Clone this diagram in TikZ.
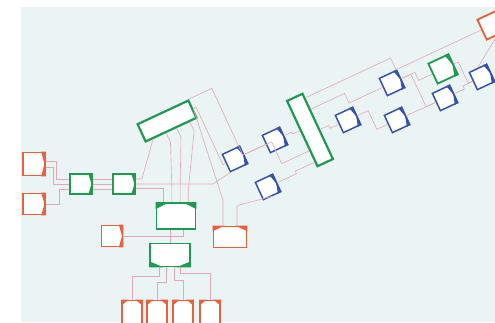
\documentclass[tikz,border=0pt]{standalone}
\usetikzlibrary{positioning,calc}
\definecolor{bgcyan}{HTML}{EBF4F5}
\definecolor{blockred}{HTML}{E8603C}
\definecolor{blockgreen}{HTML}{1E9A52}
\definecolor{blockblue}{HTML}{3552AA}
\definecolor{wirepink}{HTML}{E6A8B0}

\tikzset{
  block/.style={draw=#1, fill=white, line width=1.8pt, inner sep=0pt,
    minimum width=22pt, minimum height=22pt},
  wire/.style={draw=wirepink, line width=0.6pt},
}
% filled corners that give each block its pointed side
\newcommand{\tipeast}[2]{\fill[#2] (#1.north east) -- ($(#1.north east)!0.2!(#1.north west)$)
  -- ($(#1.east)!0.06!(#1.west)$) -- ($(#1.south east)!0.2!(#1.south west)$) -- (#1.south east) -- cycle;}
\newcommand{\tipnorth}[2]{\fill[#2] (#1.north west) -- ($(#1.north west)!0.35!(#1.north east)$) -- ($(#1.north west)!0.25!(#1.south west)$) -- cycle;
  \fill[#2] (#1.north east) -- ($(#1.north east)!0.35!(#1.north west)$) -- ($(#1.north east)!0.25!(#1.south east)$) -- cycle;}
\newcommand{\tipsouth}[2]{\fill[#2] (#1.south west) -- ($(#1.south west)!0.35!(#1.south east)$) -- ($(#1.south west)!0.25!(#1.north west)$) -- cycle;
  \fill[#2] (#1.south east) -- ($(#1.south east)!0.35!(#1.south west)$) -- ($(#1.south east)!0.25!(#1.north east)$) -- cycle;}
% wire routed square to the tilted part of the board
\newcommand{\zwire}[2]{%
  \path (#1) coordinate (za) (#2) coordinate (zb);
  \path ($(za)!.5!(zb)$) coordinate (zm) ($(za)+(25:10)$) coordinate (zau) ($(zb)+(25:10)$) coordinate (zbu);
  \draw[wire] (za) -- ($(za)!(zm)!(zau)$) -- ($(zb)!(zm)!(zbu)$) -- (zb);}

\begin{document}
\begin{tikzpicture}[x=1pt, y=1pt]
  \useasboundingbox (0,0) rectangle (495,322);
  \fill[white] (0,0) rectangle (495,322);
  \fill[bgcyan] (21,0) rectangle (495,315);

  % upright blocks
  \node[block=blockred, minimum height=23pt] (srcA) at (34,158) {};
  \node[block=blockred, minimum height=21pt] (srcB) at (34,118) {};
  \node[block=blockgreen, minimum height=20pt] (stageA) at (81,138) {};
  \node[block=blockgreen, minimum height=20pt] (stageB) at (124,138) {};
  \node[block=blockgreen, minimum width=39pt, minimum height=26pt] (merge) at (176,106) {};
  \node[block=blockred, minimum width=21pt, minimum height=21pt] (aux) at (112,86) {};
  \node[block=blockgreen, minimum width=40pt, minimum height=23pt] (split) at (170,67) {};
  \node[block=blockred, minimum width=33pt, minimum height=21pt] (sink) at (230,85) {};
  \foreach \i/\x in {1/132,2/157,3/183,4/210}
    \node[block=blockred, minimum width=20pt, minimum height=23pt] (out\i) at (\x,10) {};

  % tilted blocks
  \node[block=blockgreen, line width=2.2pt, minimum width=56pt, minimum height=19pt, rotate=25] (bus) at (167,201) {};
  \node[block=blockgreen, line width=2.2pt, minimum width=17pt, minimum height=72pt, rotate=25] (core) at (310,192) {};
  \node[block=blockgreen, rotate=25] (check) at (443,253) {};
  \node[block=blockred, rotate=25] (sinkTop) at (492,297) {};
  \foreach \n/\x/\y in {b1/235/163, b2/275/182, b3/268/135, b4/348/202,
                        b5/392/239, b6/397/202, b7/445/224, b8/482/245}
    \node[block=blockblue, line width=1.5pt, minimum width=19pt, minimum height=19pt, rotate=25] (\n) at (\x,\y) {};

  \foreach \n in {srcA,srcB,aux} {\tipeast{\n}{blockred}}
  \foreach \n in {stageA,stageB,check} {\tipeast{\n}{blockgreen}}
  \foreach \n in {b1,b2,b3,b4,b5,b6,b7,b8} {\tipeast{\n}{blockblue}}
  \tipnorth{merge}{blockgreen}
  \tipsouth{split}{blockgreen}
  \foreach \n in {sink,out1,out2,out3,out4} {\tipnorth{\n}{blockred}}

  % left wiring
  \draw[wire] ($(srcA.east)+(0,3)$) -- ++(10,0) |- ($(stageA.west)+(0,5)$);
  \draw[wire] ($(srcA.east)+(0,-3)$) -- ++(7,0) |- (stageA.west);
  \draw[wire] (srcB.east) -- ++(13,0) |- ($(stageA.west)+(0,-5)$);
  \foreach \d in {-5,0,5}
    \draw[wire] ($(stageA.east)+(0,\d)$) -- ($(stageB.west)+(0,\d)$);
  \draw[wire] ($(stageB.east)+(0,5)$) -- ++(6,0) -- ($(bus.south west)!.15!(bus.south east)$);
  \draw[wire] ($(stageB.east)+(0,-4)$) -| ($(merge.north west)!.2!(merge.north east)$);
  \draw[wire] (stageB.east) -- (213,138) -- (b1.south west);
  \foreach \f/\g in {.4/.4,.6/.6,.85/.8} {
    \path ($(merge.north west)!\g!(merge.north east)$) coordinate (mp);
    \draw[wire] ($(bus.south west)!\f!(bus.south east)$) -- ++(-65:10) -- ($(mp)+(0,12)$) -- (mp);
  }
  \draw[wire] (split.north |- merge.south) -- (split.north);
  \draw[wire] (aux.east) -| ($(merge.south)+(7,0)$);
  \foreach \f/\i/\h in {.25/1/9,.4/2/15,.6/3/13,.75/4/6}
    \draw[wire] ($(split.south west)!\f!(split.south east)$) -- ++(0,-\h) -| (out\i.north);
  \draw[wire] ($(sink.north west)!.3!(sink.north east)$) -- ++(0,25) -- (bus.east);
  \draw[wire] ($(sink.north west)!.7!(sink.north east)$) -- ++(0,20) -- (b3.south);

  % tilted wiring
  \zwire{bus.east}{b1.west}
  \zwire{bus.north east}{b2.west}
  \zwire{b1.east}{$(core.north west)!.75!(core.south west)$}
  \zwire{b2.east}{$(core.north west)!.45!(core.south west)$}
  \zwire{b3.east}{$(core.north west)!.92!(core.south west)$}
  \zwire{$(core.north east)!.55!(core.south east)$}{b4.west}
  \zwire{$(core.north east)!.25!(core.south east)$}{b5.west}
  \zwire{$(core.north east)!.08!(core.south east)$}{sinkTop.west}
  \zwire{b4.east}{b6.west}
  \zwire{b5.east}{check.west}
  \zwire{b5.east}{b7.west}
  \zwire{b6.east}{b7.west}
  \zwire{check.east}{b8.west}
  \zwire{b7.east}{b8.west}
  \draw[wire] (b8.north) -- (sinkTop.south);
\end{tikzpicture}
\end{document}
